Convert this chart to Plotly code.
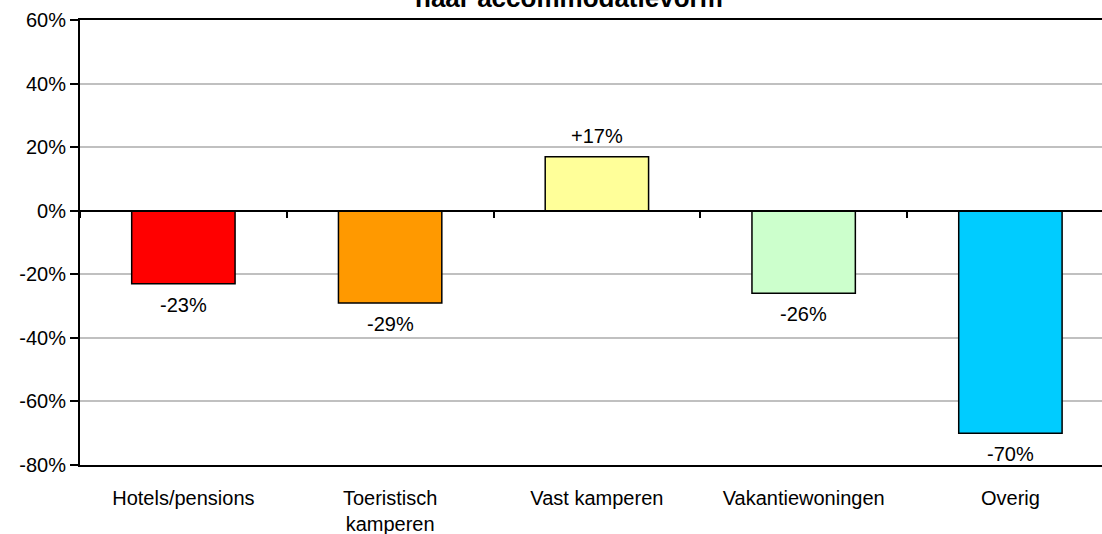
import plotly.graph_objects as go

categories = ["Hotels/pensions", "Toeristisch<br>kamperen", "Vast kamperen", "Vakantiewoningen", "Overig"]
values = [-0.23, -0.29, 0.17, -0.26, -0.70]
colors = ["#FF0000", "#FF9900", "#FFFF99", "#CCFFCC", "#00CCFF"]
tick_vals = [-0.8, -0.6, -0.4, -0.2, 0.0, 0.2, 0.4, 0.6]
tick_text = ["-80%", "-60%", "-40%", "-20%", "0%", "20%", "40%", "60%"]
title_text = "naar accommodatievorm"

FONT = "Liberation Sans, Arial, sans-serif"
FS = 20
ymin, ymax = -0.8, 0.6
xrange = [-0.5, 4.443]

fig = go.Figure()
fig.add_trace(go.Bar(
    x=categories, y=values, width=0.5,
    marker=dict(color=colors, line=dict(color="black", width=1.5)),
    hoverinfo="skip", showlegend=False,
))
fig.add_trace(go.Scatter(
    x=categories, y=[0] * len(categories), xaxis="x2", mode="markers",
    marker=dict(opacity=0), hoverinfo="skip", showlegend=False,
))

def fmt(v):
    p = round(v * 100)
    return ("+%d%%" % p) if p > 0 else ("%d%%" % p)

for c, v in zip(categories, values):
    fig.add_annotation(x=c, y=v, text=fmt(v), showarrow=False,
                       yshift=21 if v > 0 else -21,
                       font=dict(family=FONT, size=FS, color="black"))

fig.add_annotation(xref="paper", yref="paper", x=0.4785, y=1.0112,
                   xanchor="center", yanchor="bottom", text="<b>%s</b>" % title_text,
                   showarrow=False, font=dict(family=FONT, size=26, color="black"))

zero_pos = (0 - ymin) / (ymax - ymin)

fig.update_layout(
    width=1102, height=534,
    margin=dict(l=80, r=0, t=20, b=69, autoexpand=False),
    paper_bgcolor="white", plot_bgcolor="white",
    font=dict(family=FONT, size=FS, color="black"),
    xaxis=dict(type="category", range=xrange, showline=True, linecolor="black",
               linewidth=2, mirror=True, ticks="", showgrid=False, automargin=False,
               ticklabelstandoff=14, tickfont=dict(size=FS)),
    xaxis2=dict(type="category", range=xrange, overlaying="x", anchor="free",
                position=zero_pos, side="bottom", showline=True, linecolor="black",
                linewidth=2, ticks="outside", tickson="boundaries", ticklen=6,
                tickwidth=2, tickcolor="black", showticklabels=False, showgrid=False,
                matches="x"),
    yaxis=dict(range=[ymin, ymax], tickvals=tick_vals, ticktext=tick_text,
               showline=True, linecolor="black", linewidth=2, ticks="outside",
               ticklen=8, tickwidth=2, tickcolor="black", showgrid=True,
               gridcolor="#C0C0C0", gridwidth=2, zeroline=False, automargin=False,
               tickfont=dict(size=FS)),
)

fig.write_html("out.html", config={"displayModeBar": False},
               post_script="document.body.style.margin='0';")
